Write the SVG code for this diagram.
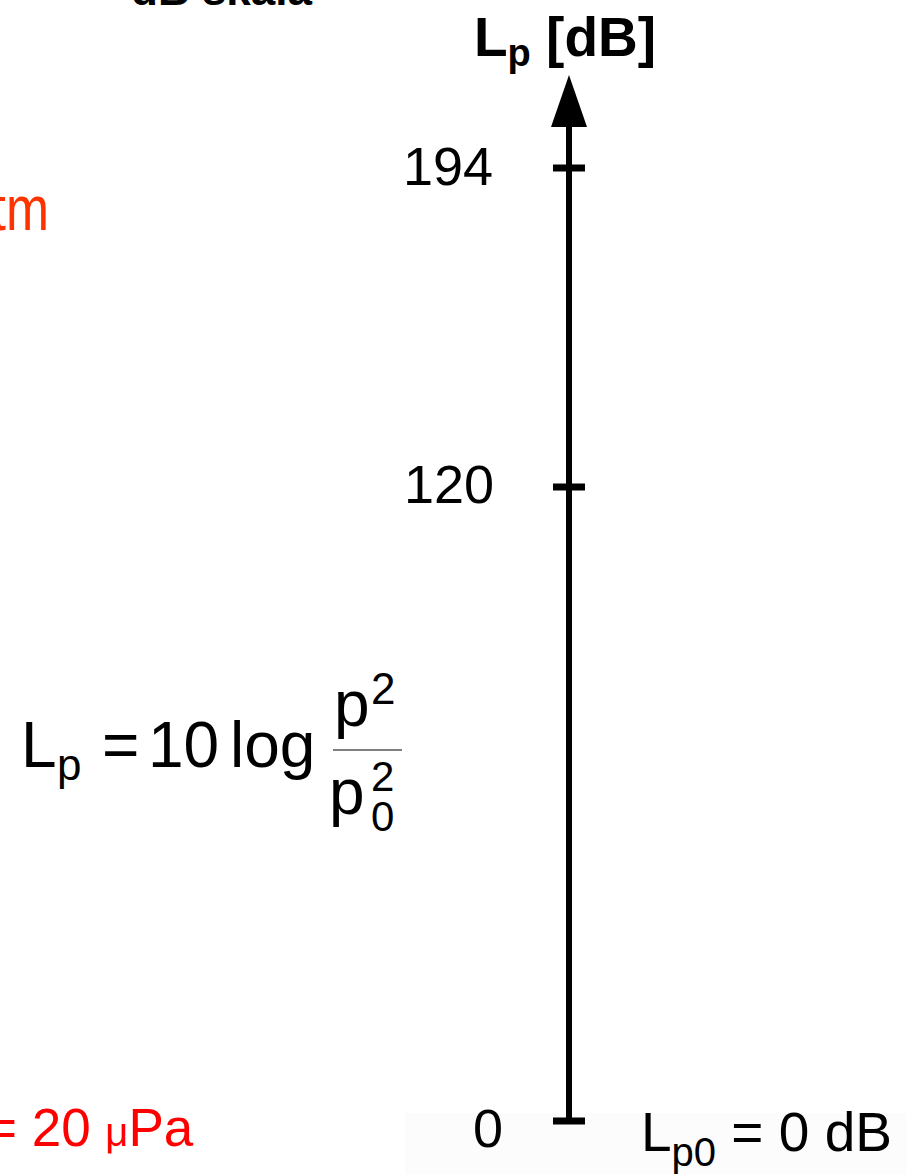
<svg xmlns="http://www.w3.org/2000/svg" width="906" height="1174" viewBox="0 0 906 1174">
<style>
text{font-family:"Liberation Sans",Arial,sans-serif;fill:#000}
.b{font-weight:bold}
.tick{font-size:54px;text-anchor:end}
.f{font-size:64px}
.red{fill:#ff0000}
.orange{fill:#ff3300}
.axis{stroke:#000;stroke-width:6;fill:none}
.tk{stroke:#000;stroke-width:7}
</style>
<defs>
<marker id="arr" markerUnits="userSpaceOnUse" markerWidth="52" markerHeight="36" refX="1" refY="18" orient="auto" viewBox="0 0 52 36">
<path d="M0,0 L52,18 L0,36 Z" fill="#000"/>
</marker>
</defs>
<rect x="405" y="1113" width="501" height="61" fill="#fcfcfc"/>
<g id="title"><text class="b" x="131" y="5" font-size="44">dB skala</text></g>
<g id="atm-label"><text class="orange" font-size="63" text-anchor="end" transform="translate(49,230) scale(0.82,1)">atm</text></g>
<g id="p0-label"><text class="red" x="-14" y="1146" font-size="53">= 20 <tspan font-size="40">μ</tspan>Pa</text></g>
<g id="formula">
<text class="f" x="21" y="767">L</text>
<text x="57" y="780" font-size="44">p</text>
<text class="f" x="102" y="767">=</text>
<text class="f" x="148" y="767">10</text>
<text class="f" x="230" y="767">log</text>
<line x1="333" y1="750" x2="402" y2="750" stroke="#555" stroke-width="1.5"/>
<text class="f" x="334" y="726">p</text>
<text x="371" y="704" font-size="44">2</text>
<text class="f" x="329" y="814">p</text>
<text x="371" y="791" font-size="42">2</text>
<text x="371" y="831" font-size="42">0</text>
</g>
<g id="connectors">
<line class="axis" x1="569" y1="1121" x2="569" y2="126" marker-end="url(#arr)"/>
</g>
<g id="axis-label"><text class="b" x="474" y="56" font-size="55">L<tspan font-size="38" dy="10">p</tspan><tspan dy="-10"> [dB]</tspan></text></g>
<g id="tick-194"><line class="tk" x1="553" y1="168" x2="585" y2="168"/><text class="tick" x="493" y="185">194</text></g>
<g id="tick-120"><line class="tk" x1="553" y1="487" x2="585" y2="487"/><text class="tick" x="494" y="503">120</text></g>
<g id="tick-0"><line class="tk" x1="553" y1="1121" x2="585" y2="1121"/><text class="tick" x="503" y="1147">0</text></g>
<g id="lp0-label"><text x="641" y="1151" font-size="55">L<tspan font-size="40" dy="15">p0</tspan><tspan dy="-15"> = 0 dB</tspan></text></g>
</svg>
